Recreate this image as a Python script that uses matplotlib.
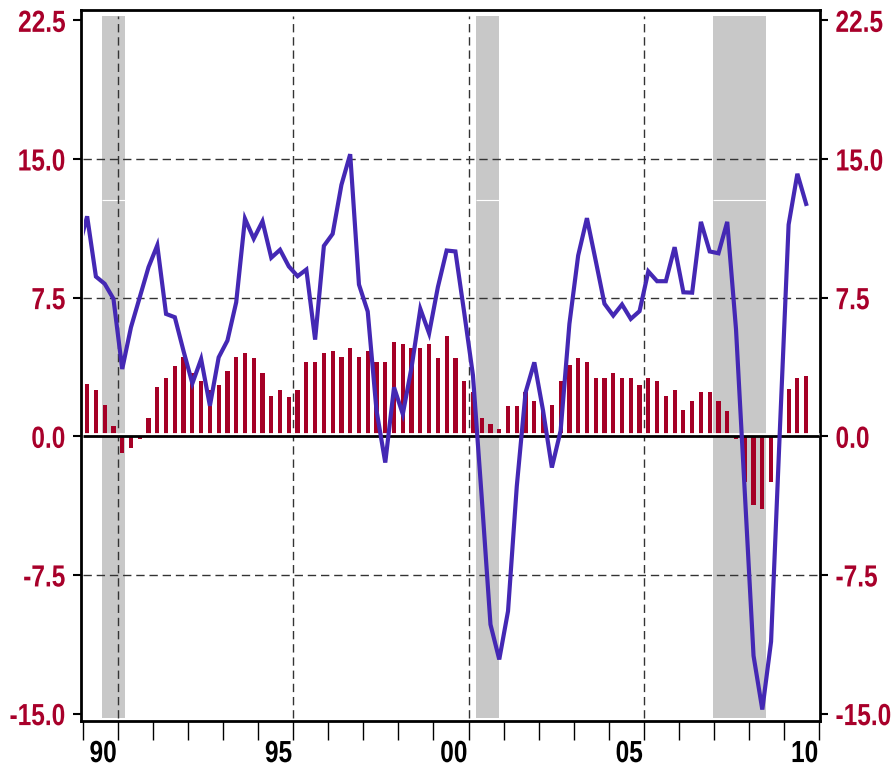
import numpy as np
import pandas as pd
import matplotlib
matplotlib.use("Agg")
import matplotlib.pyplot as plt
from matplotlib import patheffects
from matplotlib.transforms import Affine2D, Bbox
from matplotlib.patches import Rectangle

# ---------------- data ----------------
line_quarters = pd.period_range("1989Q4", "2010Q3", freq="Q")
line_values = [
    10.1,
    11.9, 8.64, 8.25, 7.44,
    3.64, 5.9, 7.52, 9.15,
    10.33, 6.62, 6.44, 4.6,
    2.86, 4.18, 1.65, 4.27,
    5.18, 7.25, 11.77, 10.69,
    11.63, 9.66, 10.09, 9.19,
    8.66, 9.02, 5.23, 10.3,
    10.95, 13.6, 15.26, 8.21,
    6.75, 1.4, -1.42, 2.65,
    1.2, 3.73, 6.89, 5.57,
    8.07, 10.05, 10.0, 6.7,
    3.3, -3.3, -10.18, -12.07,
    -9.46, -2.7, 2.37, 4.0,
    1.38, -1.69, 0.3, 6.08,
    9.78, 11.8, 9.5, 7.17,
    6.53, 7.13, 6.35, 6.77,
    8.92, 8.39, 8.39, 10.23,
    7.79, 7.77, 11.6, 10.0,
    9.9, 11.6, 5.8, -3.0,
    -11.87, -14.78, -11.1, 0.3,
    11.45, 14.2, 12.57,
]

bar_quarters = pd.period_range("1990Q1", "2010Q3", freq="Q")
bar_values = [
    2.81, 2.52, 1.71, 0.57,
    -0.88, -0.61, -0.12, 1.0,
    2.68, 3.17, 3.78, 4.31,
    3.42, 3.0, 2.5, 2.79,
    3.55, 4.31, 4.53, 4.25,
    3.44, 2.2, 2.52, 2.14,
    2.52, 4.04, 4.04, 4.53,
    4.63, 4.31, 4.8, 4.31,
    4.63, 4.04, 4.04, 5.12,
    5.01, 4.8, 4.8, 5.01,
    4.25, 5.4, 4.25, 3.0,
    2.4, 1.0, 0.68, 0.41,
    1.65, 1.65, 2.4, 1.92,
    1.44, 1.71, 3.0, 3.88,
    4.25, 4.04, 3.17, 3.17,
    3.44, 3.17, 3.17, 2.79,
    3.17, 3.0, 2.2, 2.52,
    1.44, 1.92, 2.41, 2.41,
    1.92, 1.38, -0.13, -2.49,
    -3.69, -3.94, -2.49, 0.15,
    2.54, 3.18, 3.28,
]

recessions = [(1990.55, 1991.2), (2001.2, 2001.87), (2007.96, 2009.47)]

y_ticks = [-15.0, -7.5, 0.0, 7.5, 15.0, 22.5]
y_tick_labels = ["-15.0", "-7.5", "0.0", "7.5", "15.0", "22.5"]
y_grid = [-7.5, 7.5, 15.0]
year_ticks = list(range(1990, 2012))
grid_years = [1991, 1996, 2001, 2006]
label_years = [1990, 1995, 2000, 2005, 2010]
x_tick_labels = ["90", "95", "00", "05", "10"]


def midpoint(p):
    return p.year + (p.quarter - 1) * 0.25 + 0.125


line_x = np.array([midpoint(p) for p in line_quarters])
bar_x = np.array([midpoint(p) for p in bar_quarters])


# ---------------- narrow-text effect (Arial Narrow look) ----------------
class HStretch(patheffects.AbstractPathEffect):
    """Draw the text horizontally compressed about one of its edges."""

    def __init__(self, sx, anchor="center"):
        super().__init__()
        self.sx = sx
        self.anchor = anchor

    def draw_path(self, renderer, gc, tpath, affine, rgbFace=None):
        ext = tpath.get_extents()
        if self.anchor == "right":
            x0 = ext.x1
        elif self.anchor == "left":
            x0 = ext.x0
        else:
            x0 = 0.5 * (ext.x0 + ext.x1)
        t = Affine2D().translate(-x0, 0).scale(self.sx, 1.0).translate(x0, 0) + affine
        renderer.draw_path(gc, tpath, t, rgbFace)


def narrow_label(lab, sx, anchor):
    """Apply the compression effect and report the matching narrower extent."""
    lab.set_path_effects([HStretch(sx, anchor)])
    orig = lab.get_window_extent

    def extent(renderer=None, dpi=None):
        bb = orig(renderer, dpi)
        w = bb.width * sx
        if anchor == "right":
            x0 = bb.x1 - w
        elif anchor == "left":
            x0 = bb.x0
        else:
            x0 = 0.5 * (bb.x0 + bb.x1) - 0.5 * w
        return Bbox([[x0, bb.y0], [x0 + w, bb.y1]])

    lab.get_window_extent = extent


FONT = ["Liberation Sans", "DejaVu Sans"]
FS = 22
SX = 0.80

RED = "#A8002A"
BAR = "#A50026"
BLUE = "#4428B4"
SHADE = "#C8C8C8"
GRID = "#333333"

fig = plt.figure(figsize=(8.92, 7.71), dpi=100)
ax = fig.add_axes([81 / 892, 1 - 721 / 771, (820 - 81) / 892, (721 - 10) / 771])

XMIN, XMAX = 1989.95, 2011.02
YMIN, YMAX = -15.4, 23.06
ax.set_xlim(XMIN, XMAX)
ax.set_ylim(YMIN, YMAX)

inner_bottom, inner_top = -15.25, 22.75

for a, b in recessions:
    ax.fill_between([a, b], inner_bottom, inner_top, color=SHADE, lw=0, zorder=0.5)
    ax.hlines(12.8, a, b, color="white", lw=0.8, zorder=0.6)

dash = (0, (6, 3.5))
ax.hlines(y_grid, 1990.0, 2011.0, colors=GRID, linestyles=[dash], lw=1.0, zorder=1)
ax.vlines(grid_years, inner_bottom, inner_top, colors=GRID, linestyles=[dash], lw=1.0, zorder=1)

ax.bar(bar_x, bar_values, width=0.12, color=BAR, linewidth=0, zorder=3)
ax.hlines(0.13, 1990.0, 2011.0, color="white", lw=2.0, zorder=3.5)
ax.hlines(0.0, 1990.0, 2011.0, color="black", lw=2.0, zorder=4)

ln, = ax.plot(line_x, line_values, color=BLUE, lw=3.0, zorder=5,
              solid_joinstyle="miter")
clip = Rectangle((1990.03, YMIN), 2011.0 - 1990.03, YMAX - YMIN,
                 transform=ax.transData)
ln.set_clip_path(clip)

for s in ax.spines.values():
    s.set_linewidth(2.0)
    s.set_color("black")

ax.set_yticks(y_ticks)
ax.set_yticklabels(y_tick_labels)
ax.tick_params(axis="y", which="both", direction="out", length=6, width=1.5,
               left=True, right=True, labelleft=True, labelright=True,
               labelcolor=RED, pad=5)

ax.set_xticks(year_ticks)
ax.set_xticklabels([])
ax.set_xticks([y + 0.58 for y in label_years], minor=True)
ax.set_xticklabels(x_tick_labels, minor=True)
ax.tick_params(axis="x", which="major", direction="out", length=14, width=1.0)
ax.tick_params(axis="x", which="minor", length=0, pad=13, labelcolor="black")

for tick in ax.yaxis.get_major_ticks():
    for lab, anchor in ((tick.label1, "right"), (tick.label2, "left")):
        lab.set_family(FONT)
        lab.set_fontweight("bold")
        lab.set_fontsize(FS)
        narrow_label(lab, SX, anchor)
for tick in ax.xaxis.get_minor_ticks():
    lab = tick.label1
    lab.set_family(FONT)
    lab.set_fontweight("bold")
    lab.set_fontsize(FS)
    narrow_label(lab, SX, "center")

fig.savefig("out.png", dpi=100)
